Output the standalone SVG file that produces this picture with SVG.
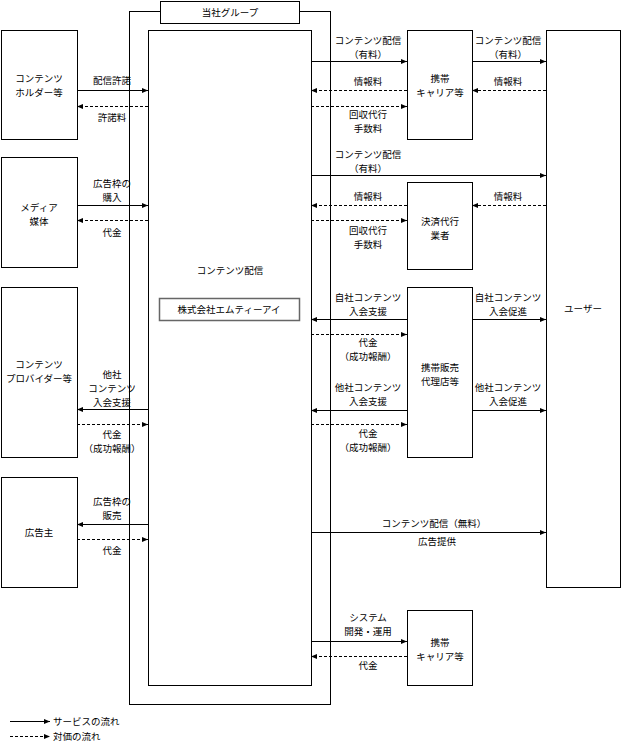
<svg xmlns="http://www.w3.org/2000/svg" width="622" height="742" viewBox="0 0 622 742">
<style>
text{font-family:"Noto Sans CJK JP","Liberation Sans",sans-serif;font-size:9.5px;fill:#000;text-anchor:middle}
.bx{fill:#fff;stroke:#000;stroke-width:1}
.s{stroke:#000;stroke-width:1;fill:none;marker-end:url(#ah)}
.d{stroke:#000;stroke-width:1;fill:none;stroke-dasharray:3,2;marker-end:url(#ah)}
.lg{text-anchor:start}
</style>
<defs>
<marker id="ah" markerWidth="6" markerHeight="6" refX="6" refY="3" orient="auto" markerUnits="userSpaceOnUse">
<path d="M0,0.5 L6,3 L0,5.5 z" fill="#000"/>
</marker>
</defs>
<rect width="622" height="742" fill="#fff"/>

<g id="group">
<rect class="bx" x="129.5" y="11.5" width="201" height="693"/>
<rect class="bx" x="160.5" y="1.5" width="139" height="22"/>
<text x="230" y="16">当社グループ</text>
</g>
<g id="inner">
<rect class="bx" x="148.5" y="30.5" width="163" height="655"/>
<text x="230" y="274">コンテンツ配信</text>
<rect x="159.5" y="298.5" width="140" height="22" fill="#fff" stroke="#666" stroke-width="1.5"/>
<text x="229" y="313">株式会社エムティーアイ</text>
</g>

<g id="holder"><rect class="bx" x="1.5" y="30.5" width="76" height="109"/><text x="39" y="82">コンテンツ</text><text x="39" y="96">ホルダー等</text></g>
<g id="media"><rect class="bx" x="1.5" y="157.5" width="76" height="110"/><text x="39" y="211">メディア</text><text x="39" y="225">媒体</text></g>
<g id="provider"><rect class="bx" x="1.5" y="287.5" width="76" height="170"/><text x="39" y="368">コンテンツ</text><text x="39" y="382">プロバイダー等</text></g>
<g id="advertiser"><rect class="bx" x="1.5" y="477.5" width="76" height="110"/><text x="39" y="536">広告主</text></g>

<g id="carrier1"><rect class="bx" x="407.5" y="30.5" width="65" height="109"/><text x="440" y="82">携帯</text><text x="440" y="96">キャリア等</text></g>
<g id="settlement"><rect class="bx" x="407.5" y="182.5" width="65" height="87"/><text x="440" y="225">決済代行</text><text x="440" y="239">業者</text></g>
<g id="retailer"><rect class="bx" x="407.5" y="287.5" width="65" height="170"/><text x="440" y="371">携帯販売</text><text x="440" y="385">代理店等</text></g>
<g id="carrier2"><rect class="bx" x="407.5" y="610.5" width="65" height="75"/><text x="440" y="646">携帯</text><text x="440" y="660">キャリア等</text></g>
<g id="user"><rect class="bx" x="546.5" y="30.5" width="74" height="557"/><text x="583" y="312">ユーザー</text></g>

<g id="connectors">
<line class="s" x1="77" y1="90.5" x2="148" y2="90.5"/>
<line class="d" x1="148" y1="106.5" x2="77" y2="106.5"/>
<line class="s" x1="77" y1="205.5" x2="148" y2="205.5"/>
<line class="d" x1="148" y1="220.5" x2="77" y2="220.5"/>
<line class="s" x1="148" y1="409.5" x2="77" y2="409.5"/>
<line class="d" x1="77" y1="424.5" x2="148" y2="424.5"/>
<line class="s" x1="148" y1="524.5" x2="77" y2="524.5"/>
<line class="d" x1="77" y1="539.5" x2="148" y2="539.5"/>

<line class="s" x1="311" y1="61.5" x2="407" y2="61.5"/>
<line class="s" x1="472" y1="61.5" x2="546" y2="61.5"/>
<line class="d" x1="407" y1="90.5" x2="311" y2="90.5"/>
<line class="d" x1="546" y1="90.5" x2="472" y2="90.5"/>
<line class="d" x1="311" y1="106.5" x2="407" y2="106.5"/>
<line class="s" x1="311" y1="175.5" x2="546" y2="175.5"/>
<line class="d" x1="407" y1="205.5" x2="311" y2="205.5"/>
<line class="d" x1="546" y1="205.5" x2="472" y2="205.5"/>
<line class="d" x1="311" y1="220.5" x2="407" y2="220.5"/>
<line class="s" x1="407" y1="319.5" x2="311" y2="319.5"/>
<line class="s" x1="472" y1="319.5" x2="546" y2="319.5"/>
<line class="d" x1="311" y1="334.5" x2="407" y2="334.5"/>
<line class="s" x1="407" y1="410.5" x2="311" y2="410.5"/>
<line class="s" x1="472" y1="410.5" x2="546" y2="410.5"/>
<line class="d" x1="311" y1="424.5" x2="407" y2="424.5"/>
<line class="s" x1="311" y1="532.5" x2="546" y2="532.5"/>
<line class="s" x1="311" y1="641.5" x2="407" y2="641.5"/>
<line class="d" x1="407" y1="656.5" x2="311" y2="656.5"/>

<text x="112" y="83.5">配信許諾</text>
<text x="112" y="120.5">許諾料</text>
<text x="112" y="187">広告枠の</text>
<text x="112" y="201">購入</text>
<text x="112" y="235.5">代金</text>
<text x="112" y="377.5">他社</text>
<text x="112" y="391.5">コンテンツ</text>
<text x="112" y="405.5">入会支援</text>
<text x="112" y="438">代金</text>
<text x="112" y="452">（成功報酬）</text>
<text x="112" y="505">広告枠の</text>
<text x="112" y="519">販売</text>
<text x="112" y="553.5">代金</text>

<text x="368" y="43.5">コンテンツ配信</text>
<text x="368" y="57.5">（有料）</text>
<text x="508" y="43.5">コンテンツ配信</text>
<text x="508" y="57.5">（有料）</text>
<text x="368" y="84.5">情報料</text>
<text x="508" y="84.5">情報料</text>
<text x="368" y="117.5">回収代行</text>
<text x="368" y="131.5">手数料</text>
<text x="368" y="157.5">コンテンツ配信</text>
<text x="368" y="171.5">（有料）</text>
<text x="368" y="199.5">情報料</text>
<text x="508" y="199.5">情報料</text>
<text x="368" y="233.5">回収代行</text>
<text x="368" y="247.5">手数料</text>
<text x="368" y="301">自社コンテンツ</text>
<text x="368" y="315">入会支援</text>
<text x="508" y="301">自社コンテンツ</text>
<text x="508" y="315">入会促進</text>
<text x="368" y="345.5">代金</text>
<text x="368" y="359.5">（成功報酬）</text>
<text x="368" y="391">他社コンテンツ</text>
<text x="368" y="405">入会支援</text>
<text x="508" y="391">他社コンテンツ</text>
<text x="508" y="405">入会促進</text>
<text x="368" y="436.5">代金</text>
<text x="368" y="450.5">（成功報酬）</text>
<text x="434" y="526.5">コンテンツ配信（無料）</text>
<text x="437" y="545">広告提供</text>
<text x="368" y="621">システム</text>
<text x="368" y="635">開発・運用</text>
<text x="368" y="668.5">代金</text>
</g>

<g id="legend">
<line class="s" x1="10" y1="721.5" x2="50" y2="721.5"/>
<text class="lg" x="53" y="725">サービスの流れ</text>
<line class="d" x1="10" y1="736.5" x2="50" y2="736.5"/>
<text class="lg" x="53" y="740">対価の流れ</text>
</g>
</svg>
